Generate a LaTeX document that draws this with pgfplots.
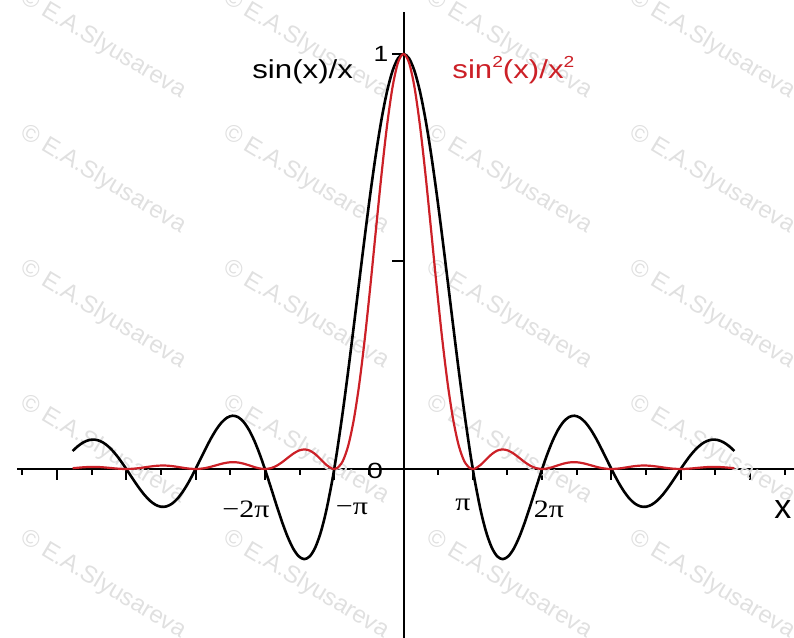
\documentclass[border=0pt]{standalone}
\usepackage{pgfplots}
\usepackage{pgfplotstable}
\usepackage{graphicx}
\usepackage{fontspec}
\pgfplotsset{compat=1.18}
\setmainfont{Liberation Sans}
\newfontfamily\tms{Liberation Serif}
\definecolor{curvered}{RGB}{204,32,39}
\definecolor{wm}{RGB}{224,224,224}

% x, sin(x)/x, sin^2(x)/x^2
\pgfplotstableread{
x s q
-15 0.043353 0.001879
-14.75 0.055459 0.003076
-14.5 0.064476 0.004157
-14.25 0.069729 0.004862
-14 0.070758 0.005007
-13.75 0.067344 0.004535
-13.5 0.059540 0.003545
-13.25 0.047669 0.002272
-13 0.032321 0.001045
-12.75 0.014321 0.000205
-12.566371 0 0
-12.5 -0.005306 0.000028
-12.25 -0.025398 0.000645
-12 -0.044714 0.001999
-11.75 -0.062014 0.003846
-11.5 -0.076126 0.005795
-11.25 -0.086028 0.007401
-11 -0.090908 0.008264
-10.75 -0.090232 0.008142
-10.5 -0.083781 0.007019
-10.25 -0.071678 0.005138
-10 -0.054402 0.002960
-9.75 -0.032771 0.001074
-9.5 -0.007911 0.000063
-9.424778 0 0
-9.25 0.018799 0.000353
-9 0.045791 0.002097
-8.75 0.071397 0.005098
-8.5 0.093940 0.008825
-8.25 0.111831 0.012506
-8 0.123670 0.015294
-7.75 0.128335 0.016470
-7.5 0.125067 0.015642
-7.25 0.113528 0.012889
-7 0.093855 0.008809
-6.75 0.066673 0.004445
-6.5 0.033095 0.001095
-6.283185 0 0
-6.25 -0.005309 0.000028
-6 -0.046569 0.002169
-5.75 -0.088397 0.007814
-5.5 -0.128280 0.016456
-5.25 -0.163607 0.026767
-5 -0.191785 0.036781
-4.75 -0.210377 0.044258
-4.5 -0.217229 0.047188
-4.25 -0.210586 0.044346
-4 -0.189201 0.035797
-3.75 -0.152416 0.023231
-3.5 -0.100224 0.010045
-3.25 -0.033291 0.001108
-3.141593 0 0
-3 0.047040 0.002213
-2.75 0.138786 0.019262
-2.5 0.239389 0.057307
-2.25 0.345810 0.119585
-2 0.454649 0.206706
-1.75 0.562278 0.316157
-1.5 0.664997 0.442221
-1.25 0.759188 0.576366
-1 0.841471 0.708073
-0.75 0.908852 0.826012
-0.5 0.958851 0.919395
-0.25 0.989616 0.979340
0 1 1
0.25 0.989616 0.979340
0.5 0.958851 0.919395
0.75 0.908852 0.826012
1 0.841471 0.708073
1.25 0.759188 0.576366
1.5 0.664997 0.442221
1.75 0.562278 0.316157
2 0.454649 0.206706
2.25 0.345810 0.119585
2.5 0.239389 0.057307
2.75 0.138786 0.019262
3 0.047040 0.002213
3.141593 0 0
3.25 -0.033291 0.001108
3.5 -0.100224 0.010045
3.75 -0.152416 0.023231
4 -0.189201 0.035797
4.25 -0.210586 0.044346
4.5 -0.217229 0.047188
4.75 -0.210377 0.044258
5 -0.191785 0.036781
5.25 -0.163607 0.026767
5.5 -0.128280 0.016456
5.75 -0.088397 0.007814
6 -0.046569 0.002169
6.25 -0.005309 0.000028
6.283185 0 0
6.5 0.033095 0.001095
6.75 0.066673 0.004445
7 0.093855 0.008809
7.25 0.113528 0.012889
7.5 0.125067 0.015642
7.75 0.128335 0.016470
8 0.123670 0.015294
8.25 0.111831 0.012506
8.5 0.093940 0.008825
8.75 0.071397 0.005098
9 0.045791 0.002097
9.25 0.018799 0.000353
9.424778 0 0
9.5 -0.007911 0.000063
9.75 -0.032771 0.001074
10 -0.054402 0.002960
10.25 -0.071678 0.005138
10.5 -0.083781 0.007019
10.75 -0.090232 0.008142
11 -0.090908 0.008264
11.25 -0.086028 0.007401
11.5 -0.076126 0.005795
11.75 -0.062014 0.003846
12 -0.044714 0.001999
12.25 -0.025398 0.000645
12.5 -0.005306 0.000028
12.566371 0 0
12.75 0.014321 0.000205
13 0.032321 0.001045
13.25 0.047669 0.002272
13.5 0.059540 0.003545
13.75 0.067344 0.004535
14 0.070758 0.005007
14.25 0.069729 0.004862
14.5 0.064476 0.004157
14.75 0.055459 0.003076
15 0.043353 0.001879
}\sinctable

\newcommand{\wmark}{\fontsize{12}{14}\selectfont\textcopyright\ E.A.Slyusareva}

\begin{document}
\begin{tikzpicture}
\begin{axis}[
  x=11.03pt, y=207.5pt,
  xmin=-17.52, xmax=17.70, ymin=-0.4072, ymax=1.101,
  axis lines=middle,
  axis line style={-, line width=1pt, black},
  xtick={-15.708,-12.566,-9.425,-6.283,-3.1416,3.1416,6.283,9.425,12.566,15.708},
  minor xtick={-17.279,-14.137,-10.996,-7.854,-4.712,-1.571,1.571,4.712,7.854,10.996,14.137,17.279},
  ytick={0,0.5,1},
  xticklabel=\empty, yticklabel=\empty,
  tick align=outside,
  major tick length=5.5pt, minor tick length=3pt,
  tick style={line width=1pt, black},
  clip=false,
]
\coordinate (BL) at (axis cs:-18.291,-0.4072);
\coordinate (TR) at (axis cs:17.702,1.1301);

% watermark grid
\begin{scope}
  \clip (axis cs:-18.291,-0.4072) rectangle (axis cs:17.702,1.1301);
  \pgfplotsinvokeforeach{1.1398,0.8145,0.4892,0.1639,-0.1614}{
    \node[wm, rotate=-31, anchor=west, inner sep=0] at (axis cs:-17.294,#1) {\wmark};
    \node[wm, rotate=-31, anchor=west, inner sep=0] at (axis cs:-8.092,#1) {\wmark};
    \node[wm, rotate=-31, anchor=west, inner sep=0] at (axis cs:1.111,#1) {\wmark};
    \node[wm, rotate=-31, anchor=west, inner sep=0] at (axis cs:10.313,#1) {\wmark};
  }
\end{scope}

\addplot[black, line width=1.3pt, smooth] table[x=x, y=s] {\sinctable};
\addplot[curvered, line width=1.1pt, smooth] table[x=x, y=q] {\sinctable};

% curve names
\node[anchor=base west, inner sep=0] at (axis cs:-6.868,0.9398)
  {\fontsize{13}{15}\selectfont\scalebox{1.2}[1]{sin(x)/x}};
\node[anchor=base west, inner sep=0, text=curvered] at (axis cs:2.199,0.9398)
  {\fontsize{13}{15}\selectfont\scalebox{1.2}[1]{sin\raisebox{0.45em}{\fontsize{8}{9}\selectfont 2}(x)/x\raisebox{0.45em}{\fontsize{8}{9}\selectfont 2}}};

% tick labels
\node[inner sep=0] at (axis cs:-1.02,1.0) {\fontsize{11}{13}\selectfont\scalebox{1.2}[1]{1}};
\node[inner sep=0] at (axis cs:-1.292,-0.0048) {\fontsize{11}{13}\selectfont\scalebox{1.3}[1]{0}};
\node[inner sep=0] at (axis cs:-7.140,-0.0964) {\tms\fontsize{12.5}{14}\selectfont\scalebox{1.2}[1]{−2π}};
\node[inner sep=0] at (axis cs:-2.335,-0.0964) {\tms\fontsize{12.5}{14}\selectfont\scalebox{1.2}[1]{−π}};
\node[inner sep=0] at (axis cs:2.697,-0.0867) {\tms\fontsize{12.5}{14}\selectfont\scalebox{1.2}[1]{π}};
\node[inner sep=0] at (axis cs:6.596,-0.0964) {\tms\fontsize{12.5}{14}\selectfont\scalebox{1.2}[1]{2π}};
\node[inner sep=0] at (axis cs:17.20,-0.0988) {\fontsize{17}{19}\selectfont x};
\end{axis}
\pgfresetboundingbox
\path[use as bounding box] (BL) rectangle (TR);
\end{tikzpicture}
\end{document}
